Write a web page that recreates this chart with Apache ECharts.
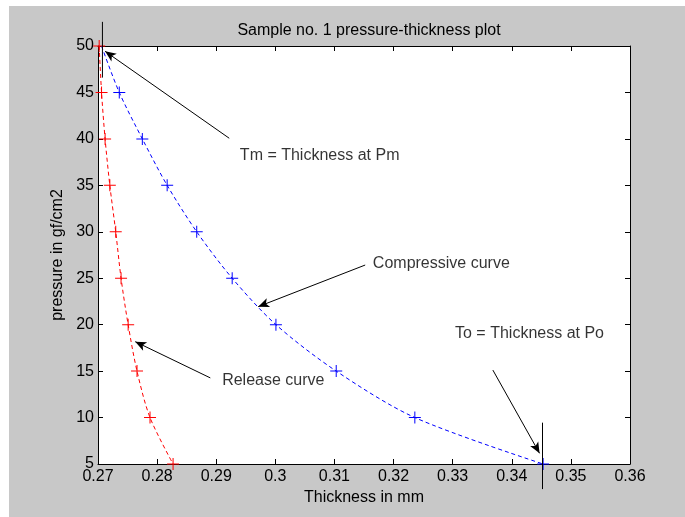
<!DOCTYPE html>
<html>
<head>
<meta charset="utf-8">
<script src="https://cdn.jsdelivr.net/npm/echarts@6/dist/echarts.min.js"></script>
<style>
  html, body { margin: 0; padding: 0; background: #ffffff; }
  #frame { position: absolute; left: 9px; top: 6px; width: 676px; height: 511px; background: #c8c8c8; }
  #chart { position: absolute; left: 0; top: 0; width: 685px; height: 517px; }
</style>
</head>
<body>
<div id="frame"></div>
<div id="chart"></div>
<script>
// 压力档位 (gf/cm2)
var pressure = [50, 45, 40, 35, 30, 25, 20, 15, 10, 5];
// 压缩曲线厚度 (mm)
var compThick = [0.2706, 0.2736, 0.2775, 0.2817, 0.2867, 0.2927, 0.3001, 0.3103, 0.3236, 0.3453];
// 回复曲线厚度 (mm)
var relThick = [0.2702, 0.2706, 0.2712, 0.2720, 0.2730, 0.2739, 0.2751, 0.2766, 0.2788, 0.2827];
// x轴刻度文字
var xTickText = ['0.27', '0.28', '0.29', '0.3', '0.31', '0.32', '0.33', '0.34', '0.35', '0.36'];
// 标注文字及其位置 [厚度, 压力]
var noteText = ['Tm = Thickness at Pm', 'Compressive curve', 'Release curve', 'To = Thickness at Po'];
var notePos = [[0.2940, 38.25], [0.3165, 26.58], [0.2910, 13.95], [0.3304, 19.03]];
// 箭头 起点 -> 终点
var arrowFrom = [[0.2922, 40.07], [0.3152, 26.42], [0.2890, 14.27], [0.3368, 15.11]];
var arrowTo = [[0.2712, 49.43], [0.2971, 21.94], [0.2763, 18.17], [0.3447, 6.15]];
// 竖直标记线 [厚度, 压力下端, 压力上端]
var vMarks = [[0.27075, 46.6, 52.6], [0.3452, 2.3, 9.45]];

var plus = 'path://M5.5,0h1v5.5h5.5v1h-5.5v5.5h-1v-5.5h-5.5v-1h5.5z';
var font = 'Liberation Sans';

var packData = function(xs, hideFirst) {
	var data = [];
	for (var i = 0; i < pressure.length; i++) {
		var item = { value: [xs[i], pressure[i]] };
		if (hideFirst && i == 0) item.symbol = 'none';
		data.push(item);
	}
	return data;
};

var arrows = [];
for (var i = 0; i < arrowFrom.length; i++) {
	arrows.push([{ coord: arrowFrom[i] }, { coord: arrowTo[i] }]);
}
var notes = [];
for (var i = 0; i < noteText.length; i++) {
	notes.push({ name: noteText[i], value: notePos[i] });
}

var axisLine = { show: true, onZero: false, lineStyle: { color: '#000', width: 1 } };
var axisTick = { show: true, inside: true, length: 5, lineStyle: { color: '#000' } };

var series = [{
	name: 'Compressive curve',
	type: 'line',
	data: packData(compThick, true),
	smooth: 0.3,
	symbol: plus,
	symbolSize: 12,
	clip: false,
	z: 3,
	itemStyle: { color: '#0000ff' },
	lineStyle: { color: '#0000ff', width: 1, type: [4, 3] },
	markLine: {
		silent: true,
		symbol: ['none', 'arrow'],
		symbolSize: [7, 11],
		label: { show: false },
		lineStyle: { color: '#000', width: 1, type: 'solid' },
		data: arrows
	}
}, {
	name: 'Release curve',
	type: 'line',
	data: packData(relThick, false),
	smooth: 0.3,
	symbol: plus,
	symbolSize: 12,
	clip: false,
	z: 3,
	itemStyle: { color: '#ff0000' },
	lineStyle: { color: '#ff0000', width: 1, type: [4, 3] }
}, {
	name: 'notes',
	type: 'scatter',
	data: notes,
	symbolSize: 0,
	clip: false,
	label: {
		show: true,
		position: 'right',
		distance: 0,
		formatter: '{b}',
		fontFamily: font,
		fontSize: 16,
		color: '#000'
	}
}];
// 竖直标记线
for (var i = 0; i < vMarks.length; i++) {
	series.push({
		type: 'line',
		data: [[vMarks[i][0], vMarks[i][1]], [vMarks[i][0], vMarks[i][2]]],
		symbol: 'none',
		clip: false,
		silent: true,
		z: 4,
		lineStyle: { color: '#000', width: 1 }
	});
}

var myChart = echarts.init(document.getElementById('chart'));
var option = {
	backgroundColor: 'transparent',
	animation: false,
	title: {
		text: 'Sample no. 1 pressure-thickness plot',
		left: 364,
		textAlign: 'center',
		top: 18,
		textStyle: { fontFamily: font, fontSize: 16, fontWeight: 'normal', color: '#000' }
	},
	grid: {
		left: 98,
		right: 55,
		top: 46,
		bottom: 53,
		show: true,
		backgroundColor: '#ffffff',
		borderWidth: 0
	},
	xAxis: [{
		type: 'value',
		min: 0.27,
		max: 0.36,
		interval: 0.01,
		position: 'bottom',
		name: 'Thickness in mm',
		nameLocation: 'middle',
		nameGap: 25,
		nameTextStyle: { fontFamily: font, fontSize: 16, color: '#000' },
		axisLine: axisLine,
		axisTick: axisTick,
		splitLine: { show: false },
		axisLabel: {
			fontFamily: font, fontSize: 16, color: '#000', margin: 5,
			formatter: function(v) { return xTickText[Math.round((v - 0.27) / 0.01)]; }
		}
	}, {
		type: 'value',
		min: 0.27,
		max: 0.36,
		interval: 0.01,
		position: 'top',
		axisLine: axisLine,
		axisTick: axisTick,
		splitLine: { show: false },
		axisLabel: { show: false }
	}],
	yAxis: [{
		type: 'value',
		min: 5,
		max: 50,
		interval: 5,
		position: 'left',
		name: 'pressure in gf/cm2',
		nameLocation: 'middle',
		nameGap: 30,
		nameTextStyle: { fontFamily: font, fontSize: 16, color: '#000' },
		axisLine: axisLine,
		axisTick: axisTick,
		splitLine: { show: false },
		axisLabel: { fontFamily: font, fontSize: 16, color: '#000', margin: 4 }
	}, {
		type: 'value',
		min: 5,
		max: 50,
		interval: 5,
		position: 'right',
		axisLine: axisLine,
		axisTick: axisTick,
		splitLine: { show: false },
		axisLabel: { show: false }
	}],
	series: series
};
myChart.setOption(option);
</script>
</body>
</html>
